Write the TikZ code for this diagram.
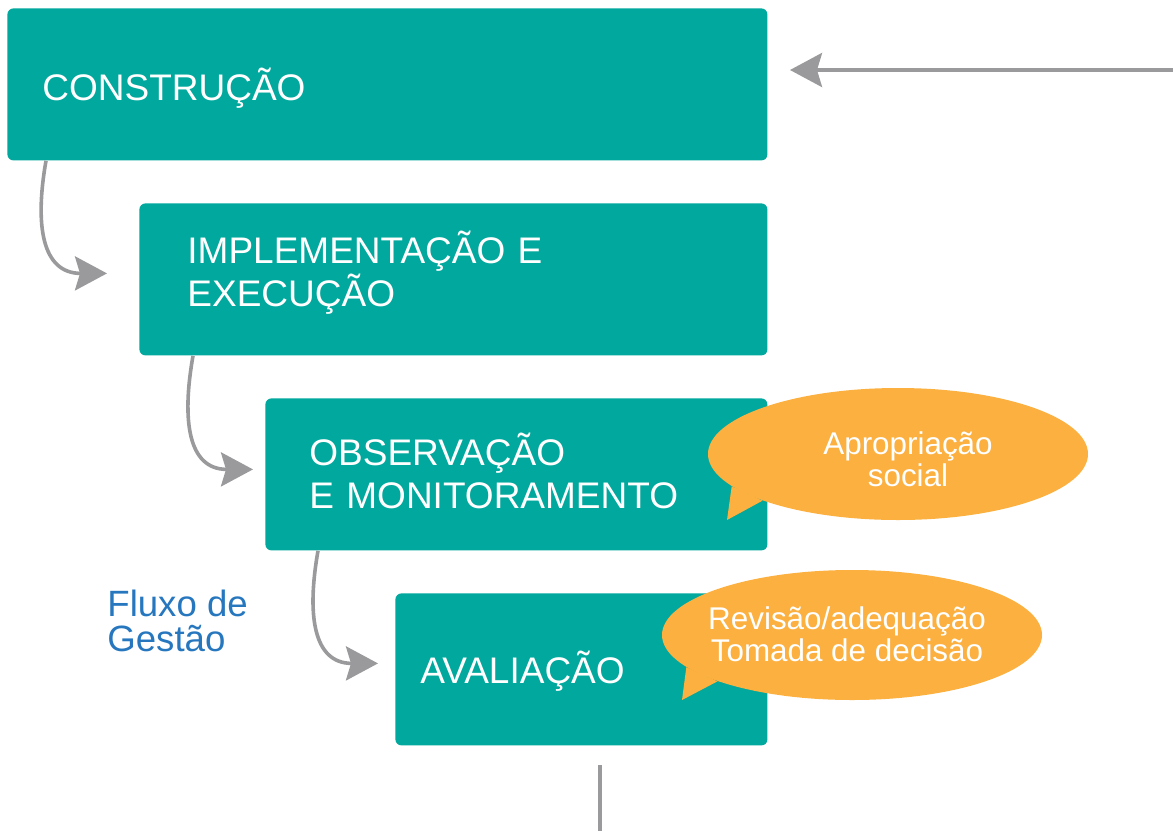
\documentclass[tikz,border=0pt]{standalone}
\usepackage{fontspec}
\setmainfont{Liberation Sans}
\usetikzlibrary{shapes.geometric,arrows.meta,positioning}

\definecolor{verdeagua}{RGB}{0,168,157}
\definecolor{laranja}{RGB}{251,176,64}
\definecolor{cinza}{RGB}{154,154,156}
\definecolor{azul}{RGB}{39,119,191}

\begin{document}
\begin{tikzpicture}[x=0.5pt,y=-0.5pt,
    etapa/.style={rectangle,fill=verdeagua,rounded corners=3pt,text=white,
        font=\fontsize{18.5}{21.5}\selectfont,align=left,anchor=north west,
        minimum height=76pt,inner ysep=0pt},
    balao/.style={ellipse,fill=laranja,inner sep=0pt,minimum width=190pt},
    balaotexto/.style={text=white,font=\fontsize{15.7}{16}\selectfont,align=center,inner sep=0pt},
    linha/.style={draw=cinza,line width=1.8pt},
    fluxo/.style={linha,-{Stealth[length=16pt,width=17pt,inset=2.5pt]}}]
    \useasboundingbox (0,0) rectangle (1173,831);

    % Etapas
    \node[etapa,text width=345pt,inner xsep=17.5pt,text height=16.2pt,text depth=0pt] (construcao) at (7,8) {CONSTRUÇÃO};
    \node[etapa,text width=266pt,inner xsep=24pt,text height=0pt,text depth=15.5pt] (implementacao) at (139,203) {IMPLEMENTAÇÃO E\\EXECUÇÃO};
    \node[etapa,text width=207pt,inner xsep=22pt,text height=0pt,text depth=9pt] (observacao) at (265,398) {OBSERVAÇÃO\\E MONITORAMENTO};
    \node[etapa,text width=161pt,inner xsep=12.5pt,text height=14pt,text depth=0pt] (avaliacao) at (395,593) {AVALIAÇÃO};

    % Fluxo entre as etapas
    \draw[fluxo] ([xshift=19.5pt]construcao.south west) to[out=-100,in=180,looseness=1.3] ([xshift=-16pt,yshift=3pt]implementacao.west);
    \draw[fluxo] ([xshift=27pt]implementacao.south west) to[out=-100,in=180,looseness=1.3] ([xshift=-6pt,yshift=2.5pt]observacao.west);
    \draw[fluxo] ([xshift=26.5pt]observacao.south west) to[out=-100,in=180,looseness=1.3] ([xshift=-8.5pt,yshift=3pt]avaliacao.west);

    % Retorno e saida
    \coordinate (retornoinicio) at (1173,70);
    \coordinate (retornofim) at (790,70);
    \draw[fluxo] (retornoinicio) -- (retornofim);
    \coordinate (saidainicio) at (600,765);
    \coordinate (saidafim) at (600,831);
    \draw[linha] (saidainicio) -- (saidafim);

    % Balao: apropriacao social
    \node[balao,minimum height=66pt] (apropriacao) at (898,454) {};
    \coordinate (apropriacaoponta) at (727,520);
    \fill[laranja] (apropriacao.191) -- (apropriacaoponta) -- (apropriacao.199) -- cycle;
    \node[balaotexto] (apropriacaotexto) at (908,459) {Apropriação\\social};

    % Balao: revisao
    \node[balao,minimum height=65pt] (revisao) at (852,635) {};
    \coordinate (revisaoponta) at (682,700);
    \fill[laranja] (revisao.191) -- (revisaoponta) -- (revisao.199) -- cycle;
    \node[balaotexto] (revisaotexto) at (847,634) {Revisão/adequação\\Tomada de decisão};

    % Legenda
    \node[text=azul,font=\fontsize{18.3}{17.5}\selectfont,align=left,anchor=west,inner sep=0pt] (legenda) at (107,621) {Fluxo de\\Gestão};
\end{tikzpicture}
\end{document}
